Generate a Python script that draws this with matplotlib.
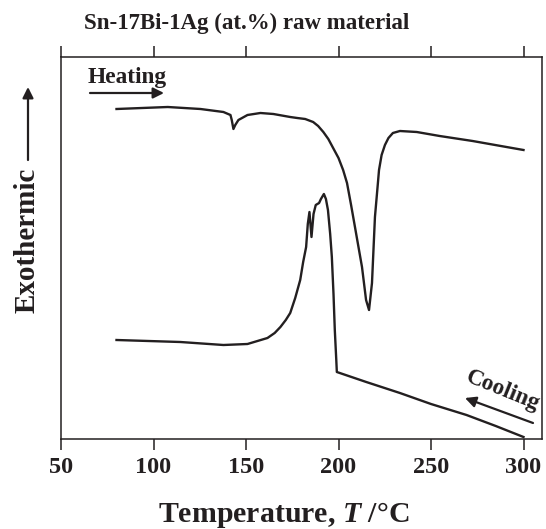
import matplotlib
matplotlib.use("Agg")
import matplotlib.pyplot as plt

plt.rcParams['font.family'] = ['Liberation Serif', 'DejaVu Serif']
plt.rcParams['font.weight'] = 'bold'
plt.rcParams['mathtext.fontset'] = 'custom'
plt.rcParams['mathtext.rm'] = 'Liberation Serif:bold'
plt.rcParams['mathtext.it'] = 'Liberation Serif:italic:bold'
plt.rcParams['mathtext.bf'] = 'Liberation Serif:bold'

INK = '#231f20'

# Heating DSC trace (temperature in degC, heat flow in arbitrary units)
heat_T = [80.0, 107.7, 125.4, 137.8, 141.6, 142.3, 143.2, 144.2, 145.9, 150.8, 157.8,
          164.8, 173.9, 177.7, 182.0, 186.3, 189.0, 191.8, 194.5, 197.1, 200.0, 202.5,
          204.6, 206.8, 208.9, 210.8, 212.7, 214.9, 216.5, 218.1, 219.7, 221.3,
          221.9, 223.3, 225.1, 227.0, 229.4, 233.2, 242.3, 254.7, 272.5, 290.8, 300.0]
heat_y = [330, 332, 330, 327, 324, 319, 310, 314, 319, 324, 326,
          325, 322, 321, 320, 317, 313, 307, 300, 291, 281, 269,
          256, 234, 212, 192, 172, 139, 129, 156, 222, 256,
          269, 284, 294, 301, 306, 308, 307, 303, 298, 292, 289]

# Cooling DSC trace
cool_T = [80.0, 114.5, 137.8, 150.8, 161.6, 165.5, 168.6, 171.5, 173.9, 176.6, 179.3, 180.9,
          182.5, 183.4, 184.3, 185.4, 186.5, 187.7, 189.5, 190.5, 192.1, 193.2,
          194.3, 195.5, 196.4, 197.3, 198.0, 198.8, 199.1, 215.0, 233.2, 250.0,
          269.2, 285.0, 300.0]
cool_y = [99, 97, 94, 95, 101, 106, 112, 119, 126, 141, 159, 177,
          192, 215, 227, 202, 225, 234, 236, 240, 245, 240,
          229, 205, 182, 145, 109, 79, 67, 57, 46, 35,
          24, 13, 2]

x_ticks = [50, 100, 150, 200, 250, 300]

W, H = 546, 529
fig = plt.figure(figsize=(W / 100, H / 100), dpi=100)
ax = fig.add_axes([61 / W, 1 - 439 / H, (542 - 61) / W, (439 - 57) / H])

ax.plot(heat_T, heat_y, color=INK, lw=1.7, solid_joinstyle='round')
ax.plot(cool_T, cool_y, color=INK, lw=1.7, solid_joinstyle='round')

ax.set_xlim(50, 310)
ax.set_ylim(0, 382)
ax.set_xticks(x_ticks)
ax.set_xticklabels([str(t) for t in x_ticks], fontsize=17.5, fontweight='bold', color=INK)
ax.set_yticks([])
ax.tick_params(axis='x', which='both', direction='out', length=8, width=1.1,
               color=INK, top=True, labeltop=False, pad=5)
for s in ax.spines.values():
    s.set_linewidth(1.1)
    s.set_color(INK)

def fx(px):
    return px / W

def fy(py):
    return 1 - py / H

# title
fig.text(fx(246.7), fy(29.5), 'Sn-17Bi-1Ag (at.%) raw material', ha='center', va='baseline',
         fontsize=16.5, fontweight='bold', color=INK)
# x label
fig.text(fx(284), fy(522), 'Temperature, $T$ /°C', ha='center', va='baseline',
         fontsize=21.5, fontweight='bold', color=INK)
# y label with arrow
fig.text(fx(27), fy(240), 'Exothermic', ha='center', va='center', rotation=90,
         fontsize=21, fontweight='bold', color=INK)
fig.add_artist(matplotlib.patches.FancyArrowPatch(
    (fx(28), fy(160)), (fx(28), fy(87)), transform=fig.transFigure,
    arrowstyle='-|>', mutation_scale=16, lw=1.6, color=INK, shrinkA=0, shrinkB=0))

# Heating annotation
fig.text(fx(88), fy(83), 'Heating', ha='left', va='baseline',
         fontsize=16.8, fontweight='bold', color=INK)
fig.add_artist(matplotlib.patches.FancyArrowPatch(
    (fx(90), fy(93)), (fx(164), fy(93)), transform=fig.transFigure,
    arrowstyle='-|>', mutation_scale=16, lw=1.6, color=INK, shrinkA=0, shrinkB=0))

# Cooling annotation
fig.text(fx(503), fy(391), 'Cooling', ha='center', va='center', rotation=-22,
         fontsize=16.8, fontweight='bold', color=INK)
fig.add_artist(matplotlib.patches.FancyArrowPatch(
    (fx(533), fy(423)), (fx(465), fy(398)), transform=fig.transFigure,
    arrowstyle='-|>', mutation_scale=16, lw=1.6, color=INK, shrinkA=0, shrinkB=0))

fig.savefig('out.png', dpi=100)
